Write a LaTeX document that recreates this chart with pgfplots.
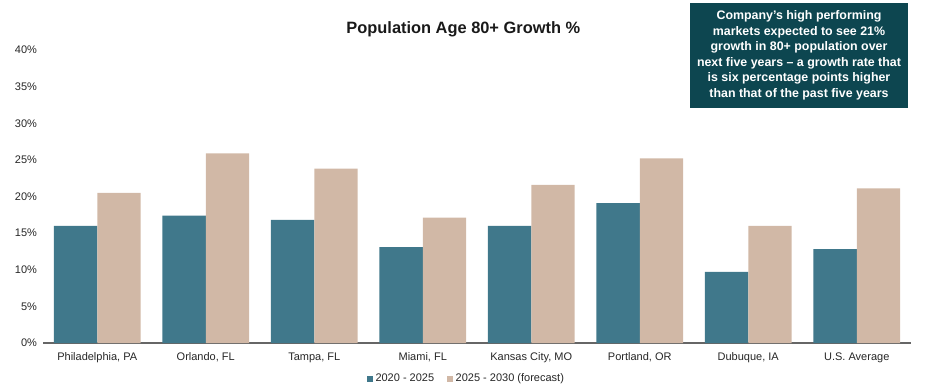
\documentclass[border=0pt]{standalone}
\usepackage{fontspec}
\setmainfont{Liberation Sans}
\usepackage{pgfplots}
\pgfplotsset{compat=1.18}
\definecolor{tealbar}{RGB}{64,120,139}
\definecolor{beigebar}{RGB}{209,184,166}
\definecolor{boxteal}{RGB}{13,70,80}
\definecolor{txt}{RGB}{38,38,38}
\begin{document}
\begin{tikzpicture}[x=1bp,y=1bp]
\useasboundingbox (0,0) rectangle (937,385);
\begin{axis}[
  at={(43bp,42bp)}, anchor=south west,
  scale only axis, width=868bp, height=293bp,
  ybar=0pt, bar width=0.4,
  xmin=-0.5, xmax=7.5, ymin=0, ymax=40,
  xtick={0,1,2,3,4,5,6,7},
  xticklabels={{Philadelphia, PA},{Orlando, FL},{Tampa, FL},{Miami, FL},{Kansas City, MO},{Portland, OR},{Dubuque, IA},{U.S. Average}},
  ytick={0,5,10,15,20,25,30,35,40},
  yticklabel={\pgfmathprintnumber{\tick}\%},
  /pgf/number format/assume math mode=true,
  major tick length=0pt,
  axis x line*=bottom, axis y line*=left,
  y axis line style={draw=none},
  x axis line style={draw=black!60, line width=1.2bp, -},
  ticklabel style={font=\fontsize{11bp}{13bp}\selectfont, text=txt},
  yticklabel style={xshift=-2.5bp},
  xticklabel style={yshift=-6.5bp},
  legend columns=2,
  legend style={at={(0.4873,0)}, anchor=center, yshift=-35.5bp, draw=none,
    font=\fontsize{11bp}{13bp}\selectfont, text=txt,
    /tikz/every even column/.append style={column sep=12bp},
    nodes={inner sep=1bp}},
  legend image code/.code={\fill[#1] (0bp,-3bp) rectangle (6bp,3bp);\path (7.5bp,0bp);},
]
\addplot[fill=tealbar, draw=none] coordinates {(0,16.0) (1,17.4) (2,16.8) (3,13.1) (4,16.0) (5,19.1) (6,9.7) (7,12.8)};
\addplot[fill=beigebar, draw=none] coordinates {(0,20.5) (1,25.9) (2,23.8) (3,17.1) (4,21.6) (5,25.2) (6,16.0) (7,21.1)};
\legend{2020 - 2025, 2025 - 2030 (forecast)}
\end{axis}
\node[anchor=base, font=\bfseries\fontsize{16.4bp}{19bp}\selectfont, text=black!90] at (463.3,352) {Population Age 80+ Growth \%};
\fill[boxteal] (690,277) rectangle (908,382);
\node[align=center, text=white, font=\bfseries\fontsize{12.4bp}{15.5bp}\selectfont] at (799,329.5) {Company’s high performing\\markets expected to see 21\%\\growth in 80+ population over\\next five years – a growth rate that\\is six percentage points higher\\than that of the past five years};
\end{tikzpicture}
\end{document}
